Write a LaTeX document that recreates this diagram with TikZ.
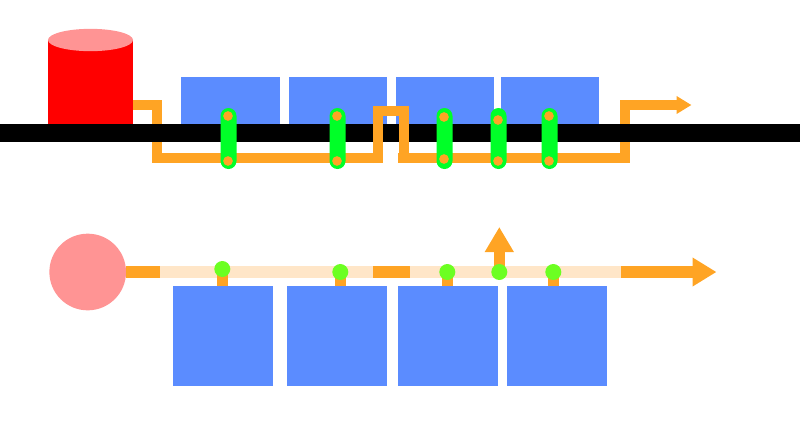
\documentclass[tikz,border=0pt]{standalone}
\usetikzlibrary{arrows.meta, shapes.geometric}
\definecolor{plred}{HTML}{FF0000}
\definecolor{plpink}{HTML}{FF9494}
\definecolor{plblue}{HTML}{5B8CFF}
\definecolor{plorange}{HTML}{FFA424}
\definecolor{plpale}{HTML}{FFE6C8}
\definecolor{plgreen}{HTML}{00FF28}
\definecolor{pllime}{HTML}{6CFF22}
\begin{document}
\begin{tikzpicture}[x=.03cm, y=-.03cm,
          bank/.style={fill=plblue, inner sep=0pt, minimum width=2.94cm, minimum height=1.41cm},
          cell/.style={fill=plblue, inner sep=0pt, minimum size=3cm},
          pipe/.style={draw=plorange, line width=.315cm},
          main/.style={draw=plorange, line width=.36cm},
          faint/.style={draw=plpale, line width=.36cm},
          clamp/.style={fill=plgreen, rounded corners=.24cm, inner sep=0pt, minimum width=.48cm, minimum height=1.83cm},
          port/.style={circle, fill=plorange, inner sep=0pt, minimum size=.29cm},
          tap/.style={circle, fill=pllime, inner sep=0pt, minimum size=.48cm}]
          \useasboundingbox (0,0) rectangle (800,437);
          \node[fill=plred, inner sep=0pt, minimum width=2.53cm, minimum height=2.52cm] (tank) at (90.5,82) {};
          \node[ellipse, fill=plpink, inner sep=0pt, minimum width=2.55cm, minimum height=.67cm] (lid) at (90.5,40) {};
          \node[bank] (b1) at (230.5,100.5) {};
          \node[bank] (b2) at (338,100.5) {};
          \node[bank] (b3) at (445,100.5) {};
          \node[bank] (b4) at (550,100.5) {};
          \coordinate (p1) at (133,105);
          \coordinate (p2) at (157,105);
          \coordinate (p3) at (157,158);
          \coordinate (p4) at (383,158);
          \coordinate (q1) at (378,163);
          \coordinate (q2) at (378,111);
          \coordinate (q3) at (404,111);
          \coordinate (q4) at (404,163);
          \coordinate (r1) at (398,158);
          \coordinate (r2) at (625,158);
          \coordinate (r3) at (625,105);
          \coordinate (r4) at (691.5,105);
          \draw[pipe] (p1)--(p2)--(p3)--(p4);
          \draw[pipe, -{Triangle[length=.45cm, width=.51cm]}] (r1)--(r2)--(r3)--(r4);
          \node[fill=black, inner sep=0pt, minimum width=24cm, minimum height=.54cm] (bar) at (400,133) {};
          \draw[pipe] (q1)--(q2)--(q3)--(q4);
          \node[clamp] (k1) at (228.5,138.5) {};
          \node[clamp] (k2) at (337.5,138.5) {};
          \node[clamp] (k3) at (444.5,138.5) {};
          \node[clamp] (k4) at (498.5,138.5) {};
          \node[clamp] (k5) at (549.5,138.5) {};
          \node[port] (u1) at (228,116) {};
          \node[port] (v1) at (228,161) {};
          \node[port] (u2) at (337,116) {};
          \node[port] (v2) at (337,161) {};
          \node[port] (u3) at (444,117) {};
          \node[port] (v3) at (444,159) {};
          \node[port] (u4) at (498,120) {};
          \node[port] (v4) at (498,161) {};
          \node[port] (u5) at (549,116) {};
          \node[port] (v5) at (549,161) {};
          \node[circle, fill=plpink, inner sep=0pt, outer sep=0pt, minimum size=2.3cm] (pump) at (87.7,272) {};
          \node[cell] (c1) at (223.3,336) {};
          \node[cell] (c2) at (337.3,336) {};
          \node[cell] (c3) at (448.3,336) {};
          \node[cell] (c4) at (557.3,336) {};
          \coordinate (s1) at (160,272);
          \coordinate (s2) at (373,272);
          \coordinate (s3) at (409.5,272);
          \coordinate (s4) at (621,272);
          \coordinate (s5) at (716.5,272);
          \coordinate (s6) at (499.3,227);
          \coordinate (j1) at (222.3,269);
          \coordinate (j2) at (340.3,272);
          \coordinate (j3) at (447.3,272);
          \coordinate (j4) at (499.3,272);
          \coordinate (j5) at (553.3,272);
          \draw[main] (pump.east)--(s1);
          \draw[faint] (s1)--(s2);
          \draw[main] (s2)--(s3);
          \draw[faint] (s3)--(s4);
          \draw[main, -{Triangle[length=.72cm, width=.82cm]}] (s4)--(s5);
          \draw[pipe, -{Triangle[length=.75cm, width=.82cm]}] (j4)--(s6);
          \draw[pipe] (j1)--(j1 |- c1.north);
          \draw[pipe] (j2)--(j2 |- c2.north);
          \draw[pipe] (j3)--(j3 |- c3.north);
          \draw[pipe] (j5)--(j5 |- c4.north);
          \node[tap] (t1) at (j1) {};
          \node[tap] (t2) at (j2) {};
          \node[tap] (t3) at (j3) {};
          \node[tap] (t4) at (j4) {};
          \node[tap] (t5) at (j5) {};
        \end{tikzpicture}
\end{document}
